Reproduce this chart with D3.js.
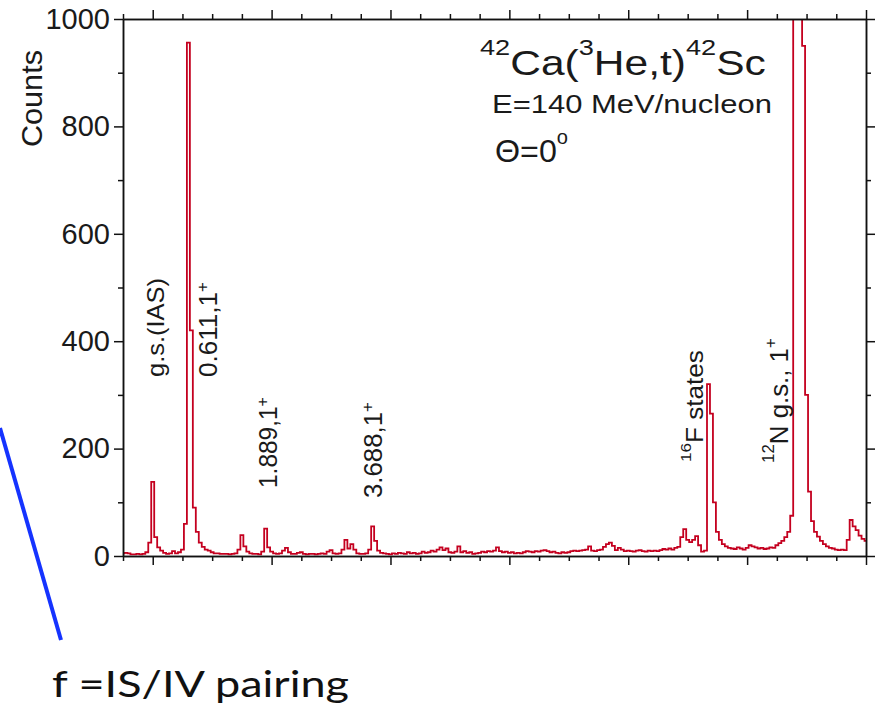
<!DOCTYPE html>
<html lang="en">
<head>
<meta charset="utf-8">
<title>42Ca(3He,t)42Sc spectrum</title>
<script src="https://d3js.org/d3.v7.min.js"></script>
<style>
  body { margin: 0; background: #fff; }
  svg { display: block; }
  .axis path, .axis line { stroke: #111; stroke-width: 1.5; }
  .axis text { font-family: "Liberation Sans", Arial, sans-serif; font-size: 29px; fill: #1a1a1a; }
  .lbl { font-family: "Liberation Sans", Arial, sans-serif; fill: #1a1a1a; }
</style>
</head>
<body>
<script>
// spectrum: counts per 0.05 MeV bin, first bin centred at Ex = -0.5 MeV
const binStart = -0.5;
const binWidth = 0.05;
const counts = [
  5, 6, 5, 3, 3, 4, 3, 4, 7, 25,
  138, 35, 16, 10, 6, 4, 5, 9, 5, 7,
  12, 60, 956, 420, 90, 45, 25, 17, 12, 10,
  7, 5, 5, 4, 4, 4, 3, 4, 5, 12,
  39, 18, 8, 5, 4, 4, 3, 8, 51, 16,
  8, 5, 4, 5, 10, 15, 7, 4, 4, 6,
  7, 4, 3, 4, 4, 3, 4, 5, 4, 8,
  11, 5, 4, 5, 12, 30, 14, 22, 12, 5,
  4, 4, 5, 12, 55, 28, 10, 6, 5, 4,
  3, 5, 4, 6, 5, 4, 7, 5, 6, 4,
  5, 8, 6, 7, 10, 8, 12, 16, 11, 14,
  7, 6, 8, 18, 7, 9, 6, 7, 4, 5,
  6, 8, 7, 9, 8, 10, 16, 9, 7, 8,
  6, 7, 5, 6, 5, 7, 9, 8, 7, 9,
  8, 10, 11, 9, 7, 8, 6, 5, 7, 6,
  7, 9, 10, 9, 10, 11, 12, 18, 10, 9,
  11, 12, 17, 22, 25, 19, 11, 15, 12, 9,
  10, 9, 8, 10, 11, 9, 8, 10, 9, 10,
  9, 11, 13, 12, 14, 12, 15, 17, 35, 50,
  30, 26, 30, 37, 20, 8, 10, 320, 265, 100,
  45, 30, 22, 18, 15, 14, 13, 16, 14, 12,
  15, 20, 18, 16, 14, 15, 13, 14, 16, 15,
  20, 24, 28, 35, 45, 75, 1400, 2500, 2000, 950,
  300, 120, 65, 45, 36, 28, 22, 18, 15, 14,
  12, 11, 12, 11, 30, 67, 55, 48, 38, 32,
  28
];

const yMajor = [0, 200, 400, 600, 800, 1000];
const yMinor = [100, 300, 500, 700, 900];
const xMajor = [0, 2, 4, 6, 8, 10, 12];
const xMinor = [-0.5, 0.5, 1, 1.5, 2.5, 3, 3.5, 4.5, 5, 5.5, 6.5, 7, 7.5, 8.5, 9, 9.5, 10.5, 11, 11.5];

const w = 879;
const h = 707;
const plotL = 123, plotR = 866, plotT = 19, plotB = 556;

const svg = d3.select("body").append("svg")
    .attr("width", w)
    .attr("height", h);

const x = d3.scaleLinear().domain([-0.5, 12]).range([plotL, plotR]);
const y = d3.scaleLinear().domain([0, 1000]).range([plotB, plotT]);

// blue pointer line coming in from the left
svg.append("line")
    .attr("x1", 0).attr("y1", 428)
    .attr("x2", 61).attr("y2", 640)
    .attr("stroke", "#1533ff")
    .attr("stroke-width", 4);

// spectrum as a step histogram
svg.append("clipPath").attr("id", "plot")
  .append("rect")
    .attr("x", plotL).attr("y", plotT)
    .attr("width", plotR - plotL).attr("height", plotB - plotT);

const pts = counts.map((c, i) => [binStart + i * binWidth - binWidth / 2, c]);
pts.push([binStart + counts.length * binWidth - binWidth / 2, counts[counts.length - 1]]);

const line = d3.line()
    .x(d => x(d[0]))
    .y(d => y(d[1]))
    .curve(d3.curveStepAfter);

svg.append("path")
    .datum(pts)
    .attr("clip-path", "url(#plot)")
    .attr("fill", "none")
    .attr("stroke", "#c4001f")
    .attr("stroke-width", 1.8)
    .attr("d", line);

// axes, ticks on all four sides
function drawAxis(gen, tr, vals, size, labels) {
    const g = svg.append("g")
        .attr("class", "axis")
        .attr("transform", tr)
        .call(gen.tickValues(vals).tickSize(size).tickSizeOuter(0).tickPadding(4)
            .tickFormat(labels ? d3.format("d") : ""));
    return g;
}
drawAxis(d3.axisBottom(x), `translate(0,${plotB})`, xMajor, 9);
drawAxis(d3.axisBottom(x), `translate(0,${plotB})`, xMinor, 5);
drawAxis(d3.axisTop(x), `translate(0,${plotT})`, xMajor, 9);
drawAxis(d3.axisTop(x), `translate(0,${plotT})`, xMinor, 5);
drawAxis(d3.axisLeft(y), `translate(${plotL},0)`, yMajor, 9, true);
drawAxis(d3.axisLeft(y), `translate(${plotL},0)`, yMinor, 5);
drawAxis(d3.axisRight(y), `translate(${plotR},0)`, yMajor, 9);
drawAxis(d3.axisRight(y), `translate(${plotR},0)`, yMinor, 5);

// text helper: stretch each label along its reading direction to the measured length
function label(px, py, angle, width, parts) {
    const g = svg.append("g").attr("transform", `translate(${px},${py}) rotate(${angle})`);
    const t = g.append("text").attr("class", "lbl");
    parts.forEach(p => t.append("tspan")
        .attr("font-size", p.size)
        .attr("dy", p.dy || 0)
        .text(p.t));
    const w0 = t.node().getComputedTextLength();
    t.attr("transform", `scale(${width / w0},1)`);
    return t;
}

label(42, 147, -90, 97, [{t: "Counts", size: 29}]);

label(480, 75, 0, 286, [
    {t: "42", size: 23, dy: -20}, {t: "Ca(", size: 36, dy: 20},
    {t: "3", size: 23, dy: -20}, {t: "He,t)", size: 36, dy: 20},
    {t: "42", size: 23, dy: -20}, {t: "Sc", size: 36, dy: 20}
]);
label(492, 113, 0, 280, [{t: "E=140 MeV/nucleon", size: 26}]);
label(495, 162, 0, 73, [{t: "\u0398=0", size: 32}, {t: "o", size: 20, dy: -18}]);

label(164, 377, -90, 99, [{t: "g.s.(IAS)", size: 24}]);
label(217, 377, -90, 95, [{t: "0.611,1", size: 26}, {t: "+", size: 17, dy: -9}]);
label(277, 488, -90, 91, [{t: "1.889,1", size: 26}, {t: "+", size: 17, dy: -9}]);
label(382, 498, -90, 96, [{t: "3.688,1", size: 26}, {t: "+", size: 17, dy: -9}]);
label(703, 462, -90, 112, [{t: "16", size: 15, dy: -12}, {t: "F states", size: 23, dy: 12}]);
label(788, 463, -90, 125, [{t: "12", size: 17, dy: -14}, {t: "N g.s., 1", size: 26, dy: 14},
    {t: "+", size: 17, dy: -12}]);

// slide caption under the figure
svg.append("text")
    .attr("x", 52).attr("y", 697)
    .attr("textLength", 297)
    .attr("lengthAdjust", "spacingAndGlyphs")
    .style("font-family", "Lato, 'Open Sans', sans-serif")
    .style("font-size", "36px")
    .style("fill", "#111")
    .text("f =IS/IV pairing");
</script>
</body>
</html>
